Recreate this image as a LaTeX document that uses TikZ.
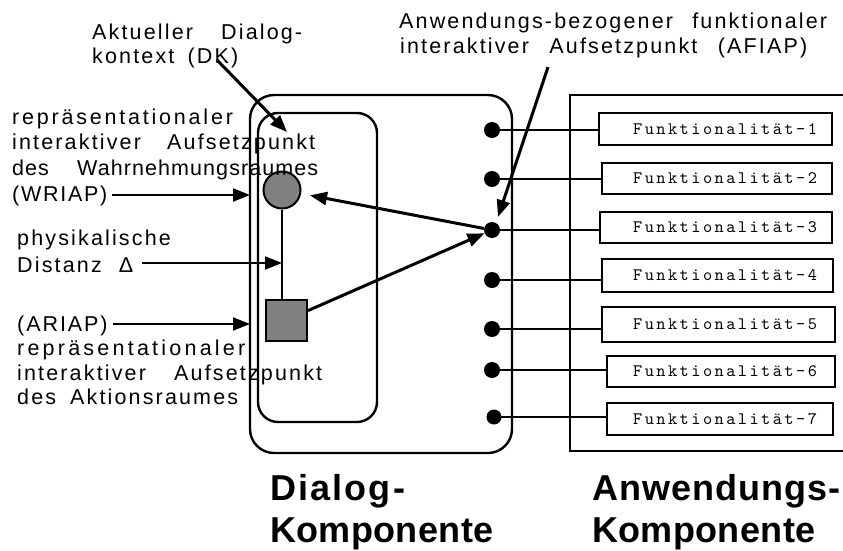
\documentclass[tikz,border=0pt]{standalone}
\usepackage{fontspec}
\setmainfont{Liberation Sans}
\newfontfamily\lsans[LetterSpace=10]{Liberation Sans}
\newfontfamily\bsans[LetterSpace=1]{Liberation Sans}
\newfontfamily\fmono[LetterSpace=14]{lmmono10-regular.otf}
\usetikzlibrary{arrows.meta}
\newcommand{\lsp}[1]{\addfontfeature{LetterSpace=#1}}
\tikzset{
  lbl/.style={anchor=base west, inner sep=0pt, font=\lsans\fontsize{21.5}{24}\selectfont},
  big/.style={anchor=base west, inner sep=0pt, font=\bsans\bfseries\fontsize{36}{43}\selectfont},
  frame/.style={draw, line width=2.4pt},
  fbox/.style={draw, line width=2.2pt, inner sep=0pt},
  ftxt/.style={anchor=base west, inner sep=0pt, font=\fmono\fontsize{17.5}{18}\selectfont},
  dotnode/.style={circle, fill=black, inner sep=0pt, minimum size=16pt},
  conn/.style={line width=2pt},
  arr/.style={line width=3pt, -{Triangle[length=17pt,width=13pt]}},
  larr/.style={line width=2pt, -{Triangle[length=17pt,width=13pt]}},
}
\begin{document}
\begin{tikzpicture}[x=1pt,y=-1pt]
\useasboundingbox (0,0) rectangle (843,550);

% component frames
\node[frame, rounded corners=24pt, minimum width=262pt, minimum height=358pt, inner sep=0pt] (dialog) at (381,274) {};
\node[frame, rounded corners=20pt, minimum width=119pt, minimum height=309pt, inner sep=0pt] (dk) at (317.5,267.5) {};
\draw[line width=2.4pt] (860,95) -- (570,95) -- (570,451) -- (860,451);

% WRIAP and ARIAP
\node[circle, draw, line width=2pt, fill=gray, minimum size=37pt, inner sep=0pt] (wr) at (282,190) {};
\node[draw, line width=2pt, fill=gray, minimum size=41pt, inner sep=0pt] (ar) at (286.5,320) {};
\draw[conn] (wr.south) -- (wr.south |- ar.north);

% function boxes
\node[fbox, minimum width=233pt, minimum height=32pt] (f1) at (715.5,129) {};
\node[fbox, minimum width=230pt, minimum height=31pt] (f2) at (717,178.5) {};
\node[fbox, minimum width=232pt, minimum height=31pt] (f3) at (716,227.5) {};
\node[fbox, minimum width=231pt, minimum height=33pt] (f4) at (717.5,275.5) {};
\node[fbox, minimum width=233pt, minimum height=35pt] (f5) at (718.5,324.5) {};
\node[fbox, minimum width=228pt, minimum height=31pt] (f6) at (721,371.5) {};
\node[fbox, minimum width=226pt, minimum height=32pt] (f7) at (720,419) {};
\node[ftxt] (t1) at (633,134) {Funktionalität-1};
\node[ftxt] (t2) at (633,183.5) {Funktionalität-2};
\node[ftxt] (t3) at (633,232.5) {Funktionalität-3};
\node[ftxt] (t4) at (633,280.5) {Funktionalität-4};
\node[ftxt] (t5) at (633,329.5) {Funktionalität-5};
\node[ftxt] (t6) at (633,376.5) {Funktionalität-6};
\node[ftxt] (t7) at (633,424) {Funktionalität-7};

% dots
\node[dotnode] (d1) at (492,130) {};
\node[dotnode] (d2) at (492,179) {};
\node[dotnode] (d3) at (492,230) {};
\node[dotnode] (d4) at (492,280) {};
\node[dotnode] (d5) at (492,329) {};
\node[dotnode] (d6) at (492,370) {};
\node[dotnode, minimum size=15pt] (d7) at (494,417) {};
\foreach \i in {1,...,7} {\draw[conn] (d\i.center) -- (d\i.center -| f\i.west);}

% texts
\node[lbl] (dk1) at (92,39) {\makebox[210pt][s]{Aktueller Dialog-}};
\node[lbl] (dk2) at (92,63) {\makebox[146pt][s]{kontext (DK)}};
\node[lbl] (af1) at (399,28) {\makebox[428pt][s]{Anwendungs-bezogener funktionaler}};
\node[lbl] (af2) at (400,53) {\makebox[407pt][s]{interaktiver Aufsetzpunkt (AFIAP)}};
\node[lbl] (w1) at (12,124) {\lsp{13}repräsentationaler};
\node[lbl] (w2) at (12,149) {\makebox[303pt][s]{interaktiver Aufsetzpunkt}};
\node[lbl] (w3) at (12,175) {\lsp{5}\makebox[306pt][s]{des Wahrnehmungsraumes}};
\node[lbl] (w4) at (12,201) {\lsp{8}(WRIAP)};
\node[lbl] (p1) at (17,245) {\lsp{10}physikalische};
\node[lbl] (p2) at (17,272) {\makebox[116pt][s]{Distanz Δ}};
\node[lbl] (a1) at (17,331) {\lsp{9}(ARIAP)};
\node[lbl] (a2) at (17,355) {\lsp{15}repräsentationaler};
\node[lbl] (a3) at (17,380) {\makebox[305pt][s]{interaktiver Aufsetzpunkt}};
\node[lbl] (a4) at (17,404) {\makebox[221pt][s]{des Aktionsraumes}};
\node[big] (b1) at (270,500) {\lsp{6}Dialog-};
\node[big] (b2) at (270,542) {Komponente};
\node[big] (b3) at (592,500) {\lsp{3}Anwendungs-};
\node[big] (b4) at (592,542) {Komponente};

% arrows
\coordinate (dks) at (217,60);
\coordinate (dkt) at (287,132);
\draw[arr] (dks) -- (dkt);
\coordinate (afs) at (548,67);
\coordinate (aft) at (498,217);
\draw[arr] (afs) -- (aft);
\coordinate (ws) at (112,195);
\coordinate (wt) at (250,195);
\draw[larr] (ws) -- (wt);
\coordinate (ps) at (142,263);
\coordinate (pt) at (282,263);
\draw[larr] (ps) -- (pt);
\coordinate (as) at (113,324);
\coordinate (at) at (250,324);
\draw[larr] (as) -- (at);
\draw[arr, shorten >=9pt] (d3) -- (wr);
\draw[arr] (ar) -- (d3);
\end{tikzpicture}
\end{document}
